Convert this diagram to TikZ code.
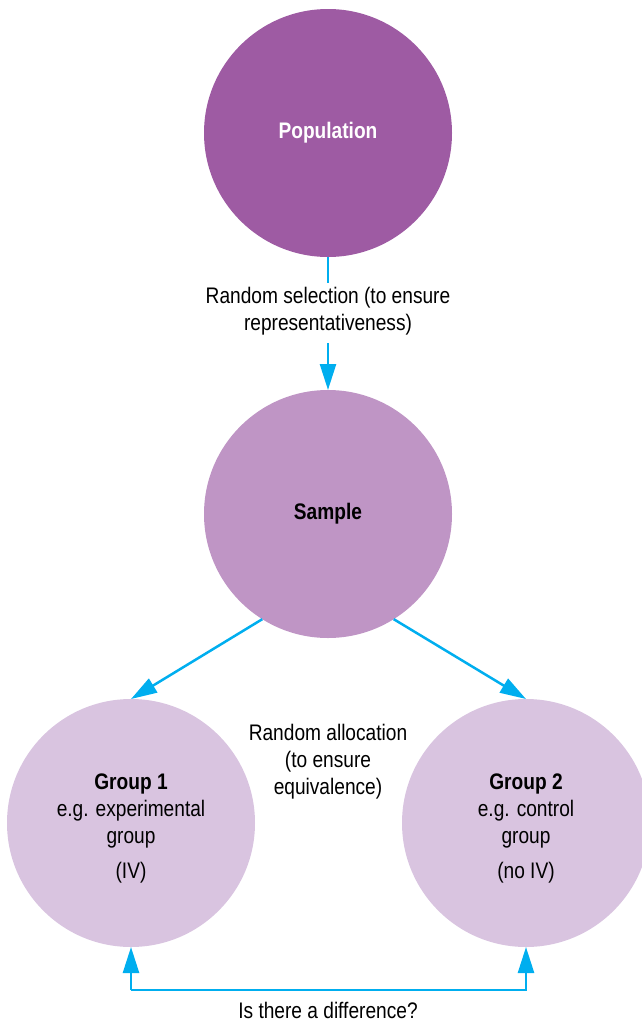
\documentclass[tikz,border=0pt]{standalone}
\usepackage{fontspec}
\setmainfont{Liberation Sans}[FakeStretch=0.85]
\usetikzlibrary{arrows.meta}
\definecolor{popc}{HTML}{9E5BA3}
\definecolor{samc}{HTML}{BF95C5}
\definecolor{grpc}{HTML}{D9C4E0}
\definecolor{arrc}{HTML}{00AEEF}
\begin{document}
\begin{tikzpicture}[x=1pt,y=-1pt,
  circ/.style={circle,minimum size=248pt,inner sep=0pt,outer sep=0pt},
  lbl/.style={align=center,font=\fontsize{22.5}{27}\selectfont,inner sep=0pt},
  conn/.style={draw=arrc,line width=2.5pt},
  tip/.style={-{Triangle[length=26pt,width=16pt]}}]
\useasboundingbox (0,0) rectangle (642,1023);
\clip (0,0) rectangle (642,1023);
\node[circ,fill=popc] (pop) at (328,133) {};
\node[circ,fill=samc] (sam) at (328,514) {};
\node[circ,fill=grpc] (g1) at (131,823) {};
\node[circ,fill=grpc] (g2) at (526,823) {};
\node[lbl,text=white,font=\fontsize{22.5}{27}\selectfont\bfseries] (popt) at (328,133) {Population};
\node[lbl,font=\fontsize{22.5}{27}\selectfont\bfseries] (samt) at (328,514) {Sample};
\node[lbl] (sel) at (328,311) {Random selection (to ensure\\representativeness)};
\node[lbl] (alloc) at (328,762) {Random allocation\\(to ensure\\equivalence)};
\node[lbl] (g1t) at (131,828) {\textbf{Group 1}\\e.g. experimental\\group\\[8pt](IV)};
\node[lbl] (g2t) at (526,828) {\textbf{Group 2}\\e.g. control\\group\\[8pt](no IV)};
\node[lbl] (diff) at (328,1010) {Is there a difference?};
\coordinate (selTop) at (328,283);
\coordinate (selBot) at (328,343);
\coordinate (c1) at (131,990);
\coordinate (c2) at (526,990);
\draw[conn] (pop.south) -- (selTop);
\draw[conn,tip] (selBot) -- (sam.north);
\draw[conn,tip] (sam.-122) -- (g1.north);
\draw[conn,tip] (sam.-58) -- (g2.north);
\draw[conn,tip] (c1) -- (c2) -- (g2.south);
\draw[conn,tip] (c1) -- (g1.south);
\end{tikzpicture}
\end{document}
